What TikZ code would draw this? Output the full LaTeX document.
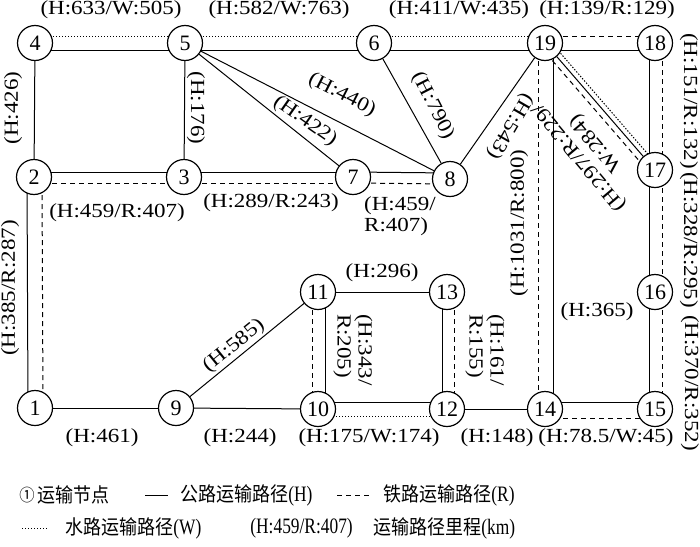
\documentclass[tikz,border=0pt]{standalone}
\usepackage{fontspec}
\setmainfont[FakeStretch=1.15]{Liberation Serif}
\newfontfamily\numfont{Liberation Serif}
\newfontfamily\legfont[FakeStretch=0.79]{Liberation Serif}
\newfontfamily\cjk[FakeStretch=0.9]{Noto Sans CJK SC}
\usetikzlibrary{backgrounds}
\tikzset{
  nd/.style={circle, draw, line width=0.6pt, fill=white, minimum size=17.5pt, inner sep=0pt, font=\numfont\fontsize{11}{11}\selectfont},
  hw/.style={line width=0.5pt},
  rw/.style={line width=0.5pt, dash pattern=on 2.5pt off 2pt},
  ww/.style={line width=0.5pt, dash pattern=on 0.7pt off 0.8pt},
  lb/.style={font=\fontsize{10}{10.5}\selectfont, inner sep=0pt},
  leg/.style={anchor=west, inner sep=0pt},
}
\begin{document}
\begin{tikzpicture}[x=0.5pt, y=-0.5pt]
\useasboundingbox (0,0) rectangle (700,546);
% nodes
\node[nd] (n1) at (35,408) {1};
\node[nd] (n2) at (34,177) {2};
\node[nd] (n3) at (184,177) {3};
\node[nd] (n4) at (35,43) {4};
\node[nd] (n5) at (185,43) {5};
\node[nd] (n6) at (374,43) {6};
\node[nd] (n7) at (353,177) {7};
\node[nd] (n8) at (450,179) {8};
\node[nd] (n9) at (176,408) {9};
\node[nd] (n10) at (318,409) {10};
\node[nd] (n11) at (318,292) {11};
\node[nd] (n12) at (447,409) {12};
\node[nd] (n13) at (447,292) {13};
\node[nd] (n14) at (545,409) {14};
\node[nd] (n15) at (655,409) {15};
\node[nd] (n16) at (655,292) {16};
\node[nd] (n17) at (655,170) {17};
\node[nd] (n18) at (655,43) {18};
\node[nd] (n19) at (545,43) {19};
% edges
\begin{scope}[on background layer]
% top row
\draw[hw] ([yshift=-3.5pt]n4.center) -- ([yshift=-3.5pt]n5.center);
\draw[ww] ([yshift=3.5pt]n4.center) -- ([yshift=3.5pt]n5.center);
\draw[hw] ([yshift=-3.5pt]n5.center) -- ([yshift=-3.5pt]n6.center);
\draw[ww] ([yshift=3.5pt]n5.center) -- ([yshift=3.5pt]n6.center);
\draw[hw] ([yshift=-3.5pt]n6.center) -- ([yshift=-3.5pt]n19.center);
\draw[ww] ([yshift=3.5pt]n6.center) -- ([yshift=3.5pt]n19.center);
\draw[hw] ([yshift=-3.5pt]n19.center) -- ([yshift=-3.5pt]n18.center);
\draw[rw] ([yshift=3.5pt]n19.center) -- ([yshift=3.5pt]n18.center);
% verticals left
\draw[hw] (n4) -- (n2);
\draw[hw] (n5) -- (n3);
\draw[hw] ([xshift=-3.5pt]n2.center) -- ([xshift=-3.5pt]n1.center);
\draw[rw] ([xshift=4pt]n2.center) -- ([xshift=4pt]n1.center);
% second row
\draw[hw] ([yshift=2.5pt]n2.center) -- ([yshift=2.5pt]n3.center);
\draw[rw] ([yshift=-3pt]n2.center) -- ([yshift=-3pt]n3.center);
\draw[hw] ([yshift=2.5pt]n3.center) -- ([yshift=2.5pt]n7.center);
\draw[rw] ([yshift=-3pt]n3.center) -- ([yshift=-3pt]n7.center);
\draw[hw] ([yshift=2.5pt]n7.center) -- ([yshift=3pt]n8.center);
\draw[rw] ([yshift=-3pt]n7.center) -- ([yshift=-2.5pt]n8.center);
% diagonals
\draw[hw] (n5) -- (n7);
\draw[hw] (n5) -- (n8);
\draw[hw] (n6) -- (n8);
\draw[hw] (n19) -- (n8);
% 19-14
\draw[rw] ([xshift=-3.5pt]n19.center) -- ([xshift=-3.5pt]n14.center);
\draw[hw] ([xshift=4pt]n19.center) -- ([xshift=4pt]n14.center);
% 19-17
\draw[hw] (n19) -- (n17);
\draw[rw] ([shift={(-2.25pt,-1.95pt)}]n19.center) -- ([shift={(-2.25pt,-1.95pt)}]n17.center);
\draw[ww] ([shift={(1.9pt,1.65pt)}]n19.center) -- ([shift={(1.9pt,1.65pt)}]n17.center);
% right column
\draw[hw] ([xshift=-3pt]n18.center) -- ([xshift=-3pt]n17.center);
\draw[rw] ([xshift=3.5pt]n18.center) -- ([xshift=3.5pt]n17.center);
\draw[hw] ([xshift=-3pt]n17.center) -- ([xshift=-3pt]n16.center);
\draw[rw] ([xshift=3.5pt]n17.center) -- ([xshift=3.5pt]n16.center);
\draw[hw] ([xshift=-3pt]n16.center) -- ([xshift=-3pt]n15.center);
\draw[rw] ([xshift=3.5pt]n16.center) -- ([xshift=3.5pt]n15.center);
% lower part
\draw[hw] (n1) -- (n9);
\draw[hw] (n9) -- (n10);
\draw[hw] (n9) -- (n11);
\draw[hw] (n11) -- (n13);
\draw[rw] ([xshift=-3pt]n11.center) -- ([xshift=-3pt]n10.center);
\draw[hw] ([xshift=3.5pt]n11.center) -- ([xshift=3.5pt]n10.center);
\draw[hw] ([xshift=-2.5pt]n13.center) -- ([xshift=-2.5pt]n12.center);
\draw[rw] ([xshift=3.5pt]n13.center) -- ([xshift=3.5pt]n12.center);
\draw[hw] ([yshift=3.5pt]n10.center) -- ([yshift=3.5pt]n12.center);
\draw[ww] ([yshift=-3.5pt]n10.center) -- ([yshift=-3.5pt]n12.center);
\draw[hw] (n12) -- (n14);
\draw[hw] ([yshift=3.5pt]n14.center) -- ([yshift=3.5pt]n15.center);
\draw[rw] ([yshift=-4.5pt]n14.center) -- ([yshift=-4.5pt]n15.center);
\end{scope}
% labels
\node[lb] (l45) at (111,10) {(H:633/W:505)};
\node[lb] (l56) at (279,10) {(H:582/W:763)};
\node[lb] (l619) at (459,10) {(H:411/W:435)};
\node[lb] (l1918) at (607,10) {(H:139/R:129)};
\node[lb, rotate=90] (l42) at (13,108) {(H:426)};
\node[lb, rotate=-90] (l53) at (196,108) {(H:176)};
\node[lb, rotate=-35] (l57) at (305,121) {(H:422)};
\node[lb, rotate=-27] (l58) at (342,95) {(H:440)};
\node[lb, rotate=-63] (l68) at (433,106) {(H:790)};
\node[lb, rotate=-120] (l198) at (510,126) {(H:543)};
\node[lb, rotate=90] (l1914) at (519,223) {(H:1031/R:800)};
\node[lb, rotate=130, align=center] (l1917) at (588,150) {(H:297/R:229/\\W:284)};
\node[lb, rotate=-90] (l1817) at (689,101) {(H:151/R:132)};
\node[lb, rotate=-90] (l1716) at (689,240) {(H:328/R:295)};
\node[lb, rotate=-90] (l1615) at (690,383) {(H:370/R:352)};
\node[lb, rotate=90] (l21) at (10,288) {(H:385/R:287)};
\node[lb] (l23) at (117,213) {(H:459/R:407)};
\node[lb] (l37) at (271,203) {(H:289/R:243)};
\node[lb, align=left] (l78) at (400,216) {(H:459/\\R:407)};
\node[lb, rotate=39] (l911) at (234,346) {(H:585)};
\node[lb] (l1113) at (382,273) {(H:296)};
\node[lb, rotate=-90, align=left] (l1110) at (353,350) {(H:343/\\R:205)};
\node[lb, rotate=-90, align=left] (l1312) at (485,350) {(H:161/\\R:155)};
\node[lb] (l1915) at (597,312) {(H:365)};
\node[lb] (l19b) at (102,438) {(H:461)};
\node[lb] (l910) at (240,438) {(H:244)};
\node[lb] (l1012) at (369,438) {(H:175/W:174)};
\node[lb] (l1214) at (497,438) {(H:148)};
\node[lb] (l1415) at (606,438) {(H:78.5/W:45)};
% legend
\node[leg] (g1) at (19,495) {\cjk\fontsize{8.5}{9}\selectfont ①};
\node[leg] (g2) at (37,495) {\cjk\fontsize{10}{10}\selectfont 运输节点};
\coordinate (ga1) at (145,495);
\coordinate (ga2) at (168,495);
\draw[hw] (ga1) -- (ga2);
\node[leg] (g3) at (180,495) {{\cjk\fontsize{10}{10}\selectfont 公路运输路径}{\legfont\fontsize{11}{11}\selectfont (H)}};
\coordinate (gb1) at (337,495);
\coordinate (gb2) at (370,495);
\draw[rw] (gb1) -- (gb2);
\node[leg] (g4) at (383,495) {{\cjk\fontsize{10}{10}\selectfont 铁路运输路径}{\legfont\fontsize{11}{11}\selectfont (R)}};
\coordinate (gc1) at (22,528);
\coordinate (gc2) at (48,528);
\draw[ww] (gc1) -- (gc2);
\node[leg] (g5) at (65,528) {{\cjk\fontsize{10}{10}\selectfont 水路运输路径}{\legfont\fontsize{11}{11}\selectfont (W)}};
\node[leg] (g6) at (250,528) {\legfont\fontsize{11}{11}\selectfont (H:459/R:407)};
\node[leg] (g7) at (373,528) {{\cjk\fontsize{10}{10}\selectfont 运输路径里程}{\legfont\fontsize{11}{11}\selectfont (km)}};
\end{tikzpicture}
\end{document}
